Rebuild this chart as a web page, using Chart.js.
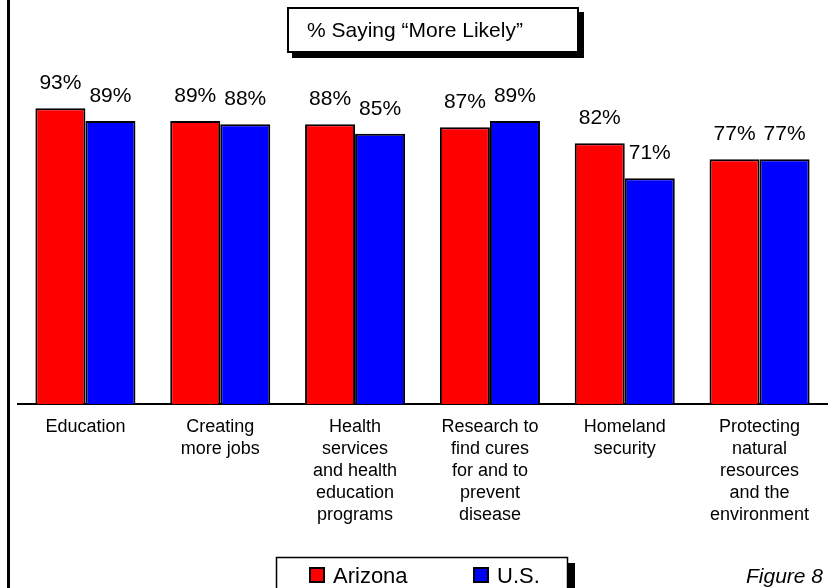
<!DOCTYPE html>
<html>
<head>
<meta charset="utf-8">
<script src="https://cdn.jsdelivr.net/npm/chart.js@4/dist/chart.umd.min.js"></script>
<style>
    html, body { margin: 0; padding: 0; background: #fff; }
    #box { width: 832px; height: 588px; }
</style>
</head>
<body>
<div id="box"><canvas id="likelyChart" width="832" height="588"></canvas></div>
<script>
// Data
const categorias = [
    'Education',
    ['Creating', 'more jobs'],
    ['Health', 'services', 'and health', 'education', 'programs'],
    ['Research to', 'find cures', 'for and to', 'prevent', 'disease'],
    ['Homeland', 'security'],
    ['Protecting', 'natural', 'resources', 'and the', 'environment']
];
const arizona = [93, 89, 88, 87, 82, 77];
const us = [89, 88, 85, 89, 71, 77];
const seriesLabels = ['Arizona', 'U.S.'];
const titulo = '% Saying \u201CMore Likely\u201D';
const rodape = 'Figure 8';

const FONT = '"Liberation Sans", Arial, sans-serif';

// Frame, title box, value labels, legend box and figure note
const extras = {
    id: 'extras',
    afterDraw(chart) {
        const ctx = chart.ctx;
        ctx.save();

        // left frame line
        ctx.fillStyle = '#000';
        ctx.fillRect(7, 0, 3, 588);

        // title box with shadow
        ctx.fillRect(292, 12, 292, 46);
        ctx.fillStyle = '#fff';
        ctx.fillRect(287, 7, 292, 46);
        ctx.strokeStyle = '#000';
        ctx.lineWidth = 2;
        ctx.strokeRect(288, 8, 290, 44);
        ctx.fillStyle = '#000';
        ctx.font = '21px ' + FONT;
        ctx.textAlign = 'left';
        ctx.textBaseline = 'middle';
        ctx.fillText(titulo, 307, 31);

        // value labels above bars
        ctx.textAlign = 'center';
        ctx.textBaseline = 'alphabetic';
        chart.data.datasets.forEach((ds, i) => {
            const meta = chart.getDatasetMeta(i);
            meta.data.forEach((bar, j) => {
                ctx.fillText(ds.data[j] + '%', bar.x, bar.y - 19);
            });
        });

        // legend box with shadow
        ctx.fillStyle = '#000';
        ctx.fillRect(282, 563, 293, 40);
        ctx.fillStyle = '#fff';
        ctx.fillRect(276, 557, 292, 40);
        ctx.lineWidth = 1.5;
        ctx.strokeRect(276.5, 557.5, 291, 39);

        const posLegenda = [{ sx: 310, tx: 333 }, { sx: 474, tx: 497 }];
        ctx.font = '22px ' + FONT;
        ctx.textAlign = 'left';
        ctx.textBaseline = 'middle';
        chart.data.datasets.forEach((ds, i) => {
            const p = posLegenda[i];
            ctx.fillStyle = ds.backgroundColor;
            ctx.fillRect(p.sx, 568, 14, 14);
            ctx.lineWidth = 2;
            ctx.strokeStyle = '#000';
            ctx.strokeRect(p.sx, 568, 14, 14);
            ctx.fillStyle = '#000';
            ctx.fillText(ds.label, p.tx, 577);
        });

        // figure number
        ctx.font = 'italic 21px ' + FONT;
        ctx.textAlign = 'right';
        ctx.fillText(rodape, 823, 577);

        ctx.restore();
    }
};

const ctx = document.getElementById('likelyChart').getContext('2d');
const likelyChart = new Chart(ctx, {
    type: 'bar',
    data: {
        labels: categorias,
        datasets: [{
            label: seriesLabels[0],
            data: arizona,
            backgroundColor: '#ff0000',
            borderColor: '#000',
            borderWidth: 2
        }, {
            label: seriesLabels[1],
            data: us,
            backgroundColor: '#0000ff',
            borderColor: '#000',
            borderWidth: 2
        }]
    },
    options: {
        responsive: false,
        animation: false,
        layout: {
            padding: { top: 86, left: 18, right: 5, bottom: 0 }
        },
        datasets: {
            bar: { categoryPercentage: 0.742, barPercentage: 1 }
        },
        plugins: {
            legend: { display: false },
            title: { display: false },
            tooltip: { enabled: false }
        },
        scales: {
            y: {
                display: false,
                min: 0,
                max: 100
            },
            x: {
                grid: { display: false, drawTicks: false },
                border: { display: true, color: '#000', width: 2 },
                ticks: {
                    color: '#000',
                    padding: 12,
                    maxRotation: 0,
                    autoSkip: false,
                    font: { family: FONT, size: 18, lineHeight: 1.22 }
                },
                afterFit: (scale) => { scale.height = 184; }
            }
        }
    },
    plugins: [extras]
});
</script>
</body>
</html>
